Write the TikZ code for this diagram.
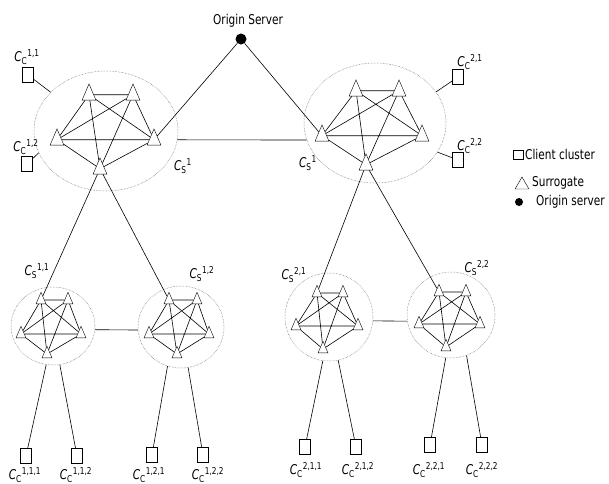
\documentclass[tikz,border=0pt]{standalone}
\usepackage{fontspec}
\setmainfont{DejaVu Sans}[FakeStretch=0.78]
\usetikzlibrary{shapes.geometric}

\newcommand{\clientlab}[1]{\textit{C}\textsubscript{C}\textsuperscript{#1}}
\newcommand{\surrlab}[1]{\textit{C}\textsubscript{S}\textsuperscript{#1}}

\begin{document}
\begin{tikzpicture}[x=1pt, y=-1pt, font=\fontsize{13.5}{15}\selectfont,
  tri/.style={draw, regular polygon, regular polygon sides=3, inner sep=0pt},
  surr/.style={tri, minimum size=16pt, yscale=1.35, yshift=-2pt},
  ssurr/.style={tri, minimum size=11.5pt, yscale=1.35, yshift=-1.5pt},
  client/.style={draw, rectangle, inner sep=0pt, minimum width=11pt, minimum height=15pt},
  origin/.style={fill=black, circle, inner sep=0pt, minimum size=11pt},
  cluster/.style={draw=black!60, line width=0.5pt, densely dotted, ellipse, inner sep=0pt},
  link/.style={line width=0.6pt},
  lbl/.style={inner sep=0pt}]
\useasboundingbox (0,0) rectangle (609,483);

% origin server
\node[origin] (os) at (241,39) {};
\node[lbl] (oslab) at (248,21) {Origin Server};

% surrogate cluster 1
\node[cluster, minimum width=144pt, minimum height=120pt] (cs1) at (106,131) {};
\node[surr] (a1) at (89,92) {};
\node[surr] (a2) at (133,92) {};
\node[surr] (a3) at (57,137) {};
\node[surr] (a4) at (154,137) {};
\node[surr] (a5) at (100,166) {};
\draw[link] (a1) -- (a2) (a1) -- (a3) (a1) -- (a4) (a1) -- (a5) (a2) -- (a3)
  (a2) -- (a4) (a2) -- (a5) (a3) -- (a4) (a3) -- (a5) (a4) -- (a5);
\node[lbl] (cs1lab) at (183,166) {\surrlab{1}};

% surrogate cluster 2
\node[cluster, minimum width=142pt, minimum height=120pt] (cs2) at (375,123) {};
\node[surr] (b1) at (356,88) {};
\node[surr] (b2) at (399,88) {};
\node[surr] (b3) at (322,133) {};
\node[surr] (b4) at (422,133) {};
\node[surr] (b5) at (366,162) {};
\draw[link] (b1) -- (b2) (b1) -- (b3) (b1) -- (b4) (b1) -- (b5) (b2) -- (b3)
  (b2) -- (b4) (b2) -- (b5) (b3) -- (b4) (b3) -- (b5) (b4) -- (b5);
\node[lbl] (cs2lab) at (308,163) {\surrlab{1}};

% top level links
\draw[link] (os) -- (a4);
\draw[link] (os) -- (b3);
\draw[link] (cs1.-7) -- (cs2.194);

% client clusters of the top level
\node[client] (k11) at (28,75) {};
\node[lbl] (k11lab) at (27,57) {\clientlab{1,1}};
\node[client] (k12) at (27,164) {};
\node[lbl] (k12lab) at (26,147) {\clientlab{1,2}};
\node[client] (k21) at (458,77) {};
\node[lbl] (k21lab) at (470,62) {\clientlab{2,1}};
\node[client] (k22) at (458,160) {};
\node[lbl] (k22lab) at (470,146) {\clientlab{2,2}};
\draw[link] (k11) -- (cs1.145);
\draw[link] (k12) -- (cs1.198);
\draw[link] (k21) -- (cs2.27);
\draw[link] (k22) -- (cs2.-25);

% sub cluster 1,1
\node[cluster, minimum width=84pt, minimum height=78pt] (cs11) at (53,326) {};
\node[ssurr] (c1) at (41,298) {};
\node[ssurr] (c2) at (68,298) {};
\node[ssurr] (c3) at (21,332) {};
\node[ssurr] (c4) at (81,332) {};
\node[ssurr] (c5) at (47,352) {};
\draw[link] (c1) -- (c2) (c1) -- (c3) (c1) -- (c4) (c1) -- (c5) (c2) -- (c3)
  (c2) -- (c4) (c2) -- (c5) (c3) -- (c4) (c3) -- (c5) (c4) -- (c5);
\node[lbl] (cs11lab) at (37,271) {\surrlab{1,1}};

% sub cluster 1,2
\node[cluster, minimum width=86pt, minimum height=82pt] (cs12) at (181,327) {};
\node[ssurr] (d1) at (169,298) {};
\node[ssurr] (d2) at (197,298) {};
\node[ssurr] (d3) at (149,332) {};
\node[ssurr] (d4) at (209,332) {};
\node[ssurr] (d5) at (177,352) {};
\draw[link] (d1) -- (d2) (d1) -- (d3) (d1) -- (d4) (d1) -- (d5) (d2) -- (d3)
  (d2) -- (d4) (d2) -- (d5) (d3) -- (d4) (d3) -- (d5) (d4) -- (d5);
\node[lbl] (cs12lab) at (202,274) {\surrlab{1,2}};

% sub cluster 2,1
\node[cluster, minimum width=88pt, minimum height=88pt] (cs21) at (329,317) {};
\node[ssurr] (e1) at (317,291) {};
\node[ssurr] (e2) at (343,291) {};
\node[ssurr] (e3) at (296,324) {};
\node[ssurr] (e4) at (358,324) {};
\node[ssurr] (e5) at (323,347) {};
\draw[link] (e1) -- (e2) (e1) -- (e3) (e1) -- (e4) (e1) -- (e5) (e2) -- (e3)
  (e2) -- (e4) (e2) -- (e5) (e3) -- (e4) (e3) -- (e5) (e4) -- (e5);
\node[lbl] (cs21lab) at (294,275) {\surrlab{2,1}};

% sub cluster 2,2
\node[cluster, minimum width=88pt, minimum height=86pt] (cs22) at (451,315) {};
\node[ssurr] (f1) at (439,290) {};
\node[ssurr] (f2) at (466,290) {};
\node[ssurr] (f3) at (419,322) {};
\node[ssurr] (f4) at (480,322) {};
\node[ssurr] (f5) at (446,345) {};
\draw[link] (f1) -- (f2) (f1) -- (f3) (f1) -- (f4) (f1) -- (f5) (f2) -- (f3)
  (f2) -- (f4) (f2) -- (f5) (f3) -- (f4) (f3) -- (f5) (f4) -- (f5);
\node[lbl] (cs22lab) at (477,268) {\surrlab{2,2}};

% links between the levels
\draw[link] (a5) -- (c1);
\draw[link] (a5) -- (d1);
\draw[link] (b5) -- (e1);
\draw[link] (b5) -- (f1);
\draw[link] (cs11.-5) -- (cs12.184);
\draw[link] (cs21.-5) -- (cs22.188);

% client clusters of the lower level
\node[client] (k111) at (26,456) {};
\node[lbl] (k111lab) at (25,475) {\clientlab{1,1,1}};
\node[client] (k112) at (77,456) {};
\node[lbl] (k112lab) at (76,475) {\clientlab{1,1,2}};
\node[client] (k121) at (152,455) {};
\node[lbl] (k121lab) at (149,475) {\clientlab{1,2,1}};
\node[client] (k122) at (203,455) {};
\node[lbl] (k122lab) at (208,475) {\clientlab{1,2,2}};
\node[client] (k211) at (305,447) {};
\node[lbl] (k211lab) at (306,470) {\clientlab{2,1,1}};
\node[client] (k212) at (356,447) {};
\node[lbl] (k212lab) at (358,470) {\clientlab{2,1,2}};
\node[client] (k221) at (430,445) {};
\node[lbl] (k221lab) at (429,470) {\clientlab{2,2,1}};
\node[client] (k222) at (482,445) {};
\node[lbl] (k222lab) at (482,470) {\clientlab{2,2,2}};
\draw[link] (cs11.-100) -- (k111);
\draw[link] (cs11.-80) -- (k112);
\draw[link] (cs12.-109) -- (k121);
\draw[link] (cs12.-80) -- (k122);
\draw[link] (cs21.-98) -- (k211);
\draw[link] (cs21.-78) -- (k212);
\draw[link] (cs22.-97) -- (k221);
\draw[link] (cs22.-69) -- (k222);

% legend
\node[client, minimum width=10pt, minimum height=9pt] (lgc) at (518,155) {};
\node[lbl, anchor=west] (lgclab) at (525,154) {Client cluster};
\node[tri, minimum size=16pt] (lgs) at (522,185) {};
\node[lbl, anchor=west] (lgslab) at (532,183) {Surrogate};
\node[origin, minimum size=8pt] (lgo) at (519,202) {};
\node[lbl, anchor=west] (lgolab) at (536,202) {Origin server};
\end{tikzpicture}
\end{document}
